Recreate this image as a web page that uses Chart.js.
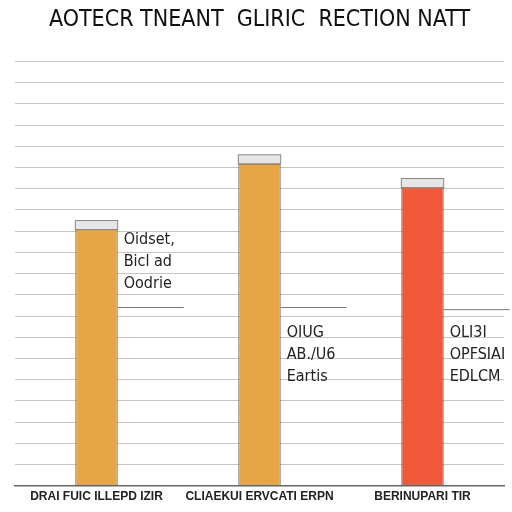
<!DOCTYPE html>
<html><head><meta charset="utf-8">
<script src="https://cdn.jsdelivr.net/npm/chart.js@4.4.0/dist/chart.umd.min.js"></script>
<style>html,body{margin:0;padding:0;background:#fff}#wrap{width:512px;height:512px}</style>
</head><body><div id="wrap"><canvas id="c" width="512" height="512"></canvas></div>
<script>
const categories = ["DRAI FUIC ILLEPD IZIR", "CLIAEKUI ERVCATI ERPN", "BERINUPARI TIR"];
const values = [60.4, 75.9, 70.3];
const barColors = ["#e8a546", "#e8a546", "#f05a3a"];
const sideNotes = [["Oidset,", "Bicl ad", "Oodrie"], ["OIUG", "AB./U6", "Eartis"], ["OLI3I", "OPFSIAI", "EDLCM"]];
const noteValue = [58, 36, 36];
const dividerValue = [42, 42, 41.5];
const yTicks = [0, 5, 10, 15, 20, 25, 30, 35, 40, 45, 50, 55, 60, 65, 70, 75, 80, 85, 90, 95, 100];

const notesPlugin = {
  id: 'notes',
  afterDatasetsDraw(chart) {
    const ctx = chart.ctx;
    const meta = chart.getDatasetMeta(0);
    const ys = chart.scales.y;
    ctx.save();
    meta.data.forEach((bar, i) => {
      const w = bar.width;
      ctx.strokeStyle = '#888'; ctx.lineWidth = 1;
      ctx.fillStyle = '#e6e6e6';
      ctx.fillRect(bar.x - w/2, bar.y - 9, w, 9);
      ctx.strokeRect(bar.x - w/2, bar.y - 9, w, 9);
      ctx.fillStyle = '#222';
      ctx.font = '16px "Liberation Sans Narrow", "DejaVu Sans Condensed", sans-serif';
      ctx.textAlign = 'left'; ctx.textBaseline = 'middle';
      const baseY = ys.getPixelForValue(noteValue[i]);
      sideNotes[i].forEach((t, k) => ctx.fillText(t, bar.x + w/2 + 6, baseY + k * 22));
      ctx.strokeStyle = '#777';
      const dy = ys.getPixelForValue(dividerValue[i]);
      ctx.beginPath(); ctx.moveTo(bar.x + w/2, dy); ctx.lineTo(bar.x + w/2 + 66, dy); ctx.stroke();
    });
    ctx.restore();
  }
};

new Chart(document.getElementById('c'), {
  type: 'bar',
  data: {
    labels: categories,
    datasets: [{
      data: values,
      backgroundColor: barColors,
      borderColor: '#555',
      borderWidth: 1,
      barPercentage: 0.5,
      categoryPercentage: 0.52
    }]
  },
  options: {
    responsive: false,
    animation: false,
    layout: { padding: { left: 15, right: 8, top: 0, bottom: 4 } },
    plugins: {
      legend: { display: false },
      tooltip: { enabled: false },
      title: {
        display: true,
        text: 'AOTECR TNEANT  GLIRIC  RECTION NATT',
        color: '#111',
        font: { family: '"DejaVu Sans Condensed", "Liberation Sans Narrow", sans-serif', size: 23, weight: 'normal' },
        padding: { top: 6, bottom: 28 }
      }
    },
    scales: {
      x: {
        grid: { display: false, drawTicks: false },
        border: { display: true, color: '#666', width: 1.5 },
        ticks: { color: '#222', maxRotation: 0, minRotation: 0, autoSkip: false,
          font: { family: '"Liberation Sans Narrow", sans-serif', size: 12, weight: 'bold' }, padding: 4 }
      },
      y: {
        min: 0, max: 100,
        afterBuildTicks(axis) { axis.ticks = yTicks.map(v => ({ value: v })); },
        grid: { color: '#c4c4c4', lineWidth: 1, drawTicks: false },
        border: { display: false },
        ticks: { display: false }
      }
    }
  },
  plugins: [notesPlugin]
});
</script></body></html>
